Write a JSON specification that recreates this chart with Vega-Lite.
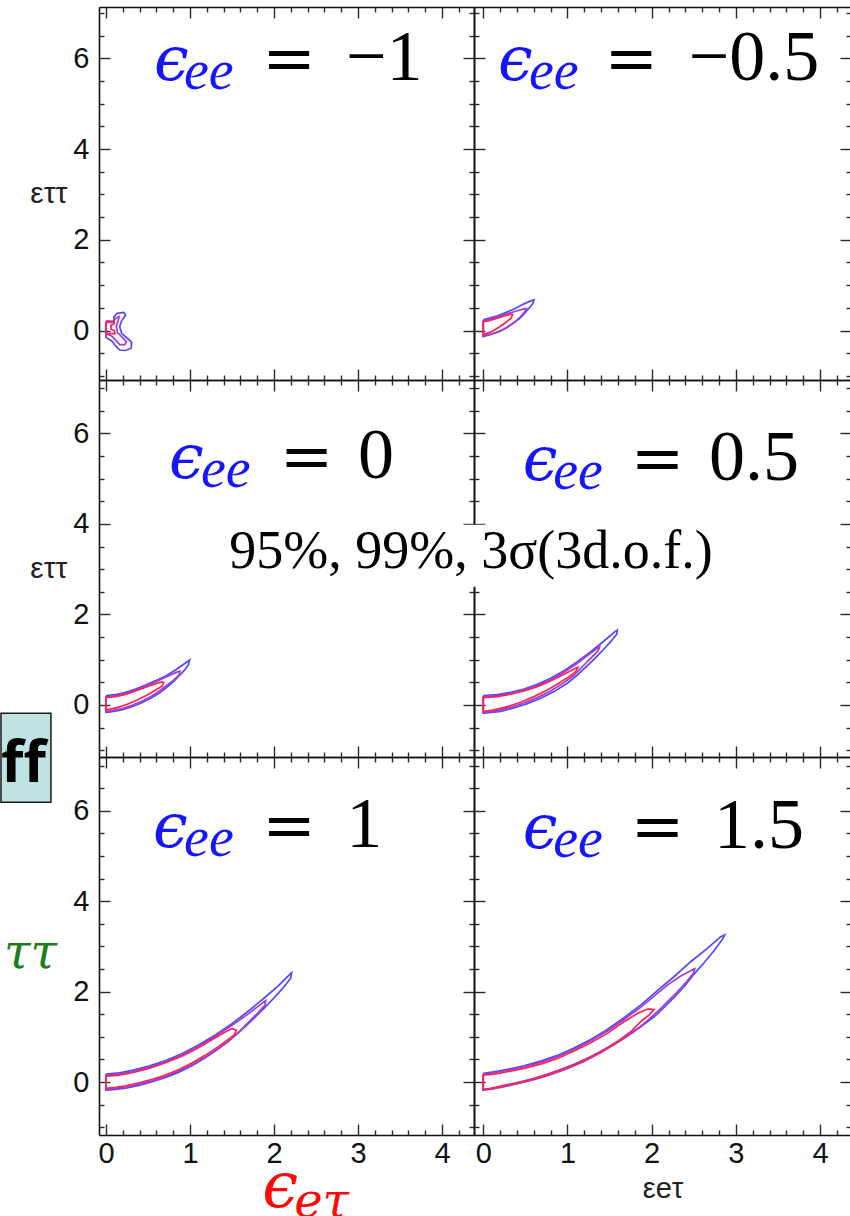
{
  "$schema": "https://vega.github.io/schema/vega-lite/v6.json",
  "background": "white",
  "padding": {"left": 0, "top": 6, "right": 0, "bottom": 0},
  "autosize": {"type": "pad"},
  "config": {
    "view": {"stroke": null},
    "axis": {
      "grid": false,
      "labelFlush": false,
      "labelOverlap": false,
      "domainColor": "#111111",
      "domainWidth": 1.6,
      "tickColor": "#2a2a2a",
      "tickWidth": 1.4,
      "labelFont": "Liberation Sans",
      "labelFontSize": 29,
      "labelColor": "#111111",
      "titleFont": "Liberation Sans",
      "titleFontWeight": "normal",
      "titleColor": "#222222"
    }
  },
  "datasets": {
    "panels": [{"ee": -1}, {"ee": -0.5}, {"ee": 0}, {"ee": 0.5}, {"ee": 1}, {"ee": 1.5}],
    "contours": [
      {"ee": -1, "lv": "3σ", "x": [0,0.095,0.095,0.135,0.214,0.234,0.187,0.163,0.187,0.254,0.306,0.3,0.234,0.163,0.115,0.075,0,0,0], "y": [0.18,0.18,0.3,0.38,0.4,0.34,0.22,0.09,-0.06,-0.17,-0.26,-0.39,-0.44,-0.43,-0.34,-0.24,-0.15,-0.06,0.18]},
      {"ee": -1, "lv": "99%", "x": [0,0.083,0.115,0.155,0.147,0.123,0.135,0.195,0.242,0.226,0.163,0.115,0.067,0,0], "y": [0.19,0.19,0.27,0.31,0.22,0.1,-0.04,-0.15,-0.24,-0.31,-0.31,-0.21,-0.12,-0.07,0.19]},
      {"ee": -1, "lv": "95%", "x": [0,0.091,0.099,0.06,0.06,0.099,0.107,0,0], "y": [0.21,0.21,0.15,0.12,0.03,0,-0.07,-0.07,0.21]},
      {"ee": -0.5, "lv": "3σ", "x": [0,0.088,0.187,0.286,0.385,0.484,0.563,0.603,0.587,0.543,0.484,0.424,0.345,0.266,0.187,0.088,0,0], "y": [0.235,0.279,0.338,0.411,0.492,0.588,0.654,0.676,0.588,0.492,0.367,0.25,0.147,0.052,-0.022,-0.088,-0.132,0.235]},
      {"ee": -0.5, "lv": "99%", "x": [0,0.088,0.187,0.286,0.385,0.484,0.512,0.492,0.444,0.365,0.286,0.207,0.108,0,0], "y": [0.213,0.25,0.309,0.367,0.426,0.477,0.485,0.411,0.309,0.176,0.074,-0.007,-0.073,-0.11,0.213]},
      {"ee": -0.5, "lv": "95%", "x": [0,0.068,0.167,0.266,0.325,0.349,0.333,0.266,0.187,0.108,0.029,0,0], "y": [0.191,0.22,0.272,0.331,0.36,0.353,0.279,0.176,0.074,-0.014,-0.073,-0.088,0.191]},
      {"ee": 0, "lv": "3σ", "x": [0,0.115,0.234,0.353,0.472,0.591,0.71,0.829,0.929,0.996,0.98,0.929,0.869,0.79,0.71,0.631,0.532,0.413,0.294,0.175,0.056,0,0], "y": [0.206,0.228,0.279,0.353,0.441,0.537,0.64,0.772,0.905,0.993,0.883,0.758,0.64,0.493,0.368,0.257,0.147,0.037,-0.052,-0.118,-0.155,-0.162,0.206]},
      {"ee": 0, "lv": "99%", "x": [0,0.115,0.234,0.353,0.472,0.591,0.71,0.829,0.881,0.869,0.81,0.73,0.651,0.552,0.432,0.313,0.194,0.075,0,0], "y": [0.184,0.206,0.257,0.331,0.419,0.515,0.611,0.714,0.75,0.662,0.552,0.441,0.331,0.206,0.088,-0.008,-0.081,-0.125,-0.14,0.184]},
      {"ee": 0, "lv": "95%", "x": [0,0.115,0.234,0.353,0.472,0.591,0.663,0.687,0.671,0.591,0.492,0.373,0.254,0.135,0,0], "y": [0.169,0.184,0.235,0.309,0.39,0.471,0.508,0.493,0.419,0.331,0.221,0.11,0.015,-0.059,-0.11,0.169]},
      {"ee": 0.5, "lv": "3σ", "x": [0,0.167,0.325,0.484,0.642,0.8,0.959,1.117,1.276,1.434,1.553,1.592,1.584,1.513,1.434,1.335,1.236,1.117,0.998,0.84,0.682,0.523,0.365,0.207,0,0], "y": [0.206,0.228,0.28,0.353,0.456,0.589,0.758,0.957,1.178,1.413,1.604,1.656,1.56,1.398,1.236,1.045,0.869,0.662,0.479,0.295,0.147,0.03,-0.066,-0.14,-0.184,0.206]},
      {"ee": 0.5, "lv": "99%", "x": [0,0.167,0.325,0.484,0.642,0.8,0.959,1.117,1.256,1.355,1.382,1.363,1.295,1.196,1.078,0.959,0.8,0.642,0.484,0.325,0.167,0,0], "y": [0.184,0.206,0.258,0.331,0.427,0.552,0.721,0.92,1.119,1.251,1.281,1.192,1.067,0.883,0.662,0.493,0.309,0.162,0.044,-0.051,-0.125,-0.162,0.184]},
      {"ee": 0.5, "lv": "95%", "x": [0,0.167,0.325,0.484,0.642,0.8,0.959,1.078,1.125,1.097,1.018,0.899,0.761,0.603,0.444,0.286,0.128,0,0], "y": [0.162,0.184,0.236,0.309,0.405,0.53,0.677,0.795,0.832,0.736,0.626,0.479,0.331,0.184,0.059,-0.037,-0.11,-0.147,0.162]},
      {"ee": 1, "lv": "3σ", "x": [0,0.155,0.313,0.512,0.71,0.909,1.107,1.306,1.504,1.702,1.901,2.06,2.179,2.21,2.198,2.119,2.02,1.901,1.782,1.663,1.544,1.425,1.306,1.167,1.028,0.869,0.71,0.552,0.393,0.234,0.115,0,0], "y": [0.177,0.206,0.258,0.354,0.479,0.634,0.826,1.047,1.298,1.578,1.888,2.146,2.367,2.419,2.293,2.109,1.903,1.667,1.445,1.239,1.04,0.855,0.693,0.524,0.369,0.221,0.103,0.007,-0.074,-0.133,-0.162,-0.177,0.177]},
      {"ee": 1, "lv": "99%", "x": [0,0.155,0.313,0.512,0.71,0.909,1.107,1.306,1.504,1.702,1.841,1.901,1.893,1.821,1.702,1.583,1.464,1.325,1.187,1.028,0.869,0.71,0.552,0.393,0.234,0.115,0,0], "y": [0.155,0.177,0.229,0.324,0.45,0.605,0.796,1.018,1.261,1.519,1.718,1.799,1.703,1.556,1.335,1.113,0.914,0.723,0.553,0.391,0.251,0.125,0.029,-0.044,-0.111,-0.14,-0.162,0.155]},
      {"ee": 1, "lv": "95%", "x": [0,0.155,0.313,0.512,0.71,0.909,1.107,1.266,1.425,1.504,1.552,1.524,1.444,1.325,1.187,1.028,0.869,0.71,0.552,0.393,0.234,0.115,0,0], "y": [0.133,0.155,0.206,0.302,0.428,0.575,0.767,0.944,1.113,1.187,1.15,1.04,0.929,0.767,0.597,0.428,0.28,0.155,0.059,-0.015,-0.081,-0.118,-0.14,0.133]},
      {"ee": 1.5, "lv": "3σ", "x": [0,0.128,0.286,0.484,0.682,0.88,1.078,1.276,1.474,1.671,1.869,2.067,2.265,2.463,2.661,2.82,2.867,2.839,2.74,2.622,2.503,2.384,2.265,2.147,2.028,1.869,1.671,1.474,1.276,1.078,0.88,0.682,0.484,0.286,0.128,0,0], "y": [0.192,0.229,0.28,0.361,0.465,0.59,0.752,0.944,1.165,1.423,1.703,2.021,2.33,2.662,2.957,3.215,3.252,3.156,2.906,2.64,2.389,2.109,1.873,1.652,1.445,1.224,0.988,0.76,0.56,0.391,0.251,0.118,0.007,-0.081,-0.14,-0.177,0.192]},
      {"ee": 1.5, "lv": "99%", "x": [0,0.128,0.286,0.484,0.682,0.88,1.078,1.276,1.474,1.671,1.869,2.028,2.186,2.344,2.463,2.511,2.495,2.424,2.305,2.186,2.067,1.949,1.79,1.592,1.394,1.196,0.998,0.8,0.603,0.405,0.207,0.088,0,0], "y": [0.17,0.207,0.258,0.339,0.435,0.56,0.723,0.914,1.128,1.386,1.652,1.903,2.146,2.345,2.463,2.507,2.404,2.242,1.998,1.777,1.556,1.357,1.113,0.87,0.649,0.457,0.295,0.162,0.052,-0.037,-0.118,-0.155,-0.17,0.17]},
      {"ee": 1.5, "lv": "95%", "x": [0,0.128,0.286,0.484,0.682,0.88,1.078,1.276,1.474,1.671,1.83,1.949,2.028,1.968,1.869,1.751,1.592,1.394,1.196,0.998,0.8,0.603,0.405,0.207,0.088,0,0], "y": [0.155,0.177,0.229,0.302,0.398,0.524,0.686,0.87,1.077,1.335,1.519,1.615,1.608,1.482,1.335,1.113,0.892,0.671,0.487,0.324,0.192,0.081,-0.008,-0.089,-0.14,-0.162,0.155]}
    ]
  },
  "columns": 2,
  "spacing": 0,
  "bounds": "flush",
  "concat": [
    {
      "width": 375, "height": 373,
      "resolve": {"axis": {"x": "independent", "y": "independent"}},
      "layer": [
        {
          "data": {"name": "contours"},
          "transform": [{"filter": "datum.ee === -1"}, {"flatten": ["x", "y"]}, {"window": [{"op": "row_number", "as": "i"}], "groupby": ["lv"]}],
          "mark": {"type": "line", "strokeWidth": 1.7, "clip": false},
          "encoding": {
            "x": {"field": "x", "type": "quantitative", "scale": {"domain": [-0.083, 4.381], "nice": false, "zero": false}, "axis": {"orient": "bottom", "values": [0,1,2,3,4], "tickSize": -11, "labels": false, "title": null}},
            "y": {"field": "y", "type": "quantitative", "scale": {"domain": [-1.09, 7.13], "nice": false, "zero": false}, "axis": {"orient": "left", "values": [0,2,4,6], "tickSize": -11, "labelPadding": 21, "title": "εττ", "titleAngle": 0, "titleAlign": "right", "titleBaseline": "middle", "titleFontSize": 30, "titlePadding": 6}},
            "color": {"field": "lv", "type": "nominal", "scale": {"domain": ["3σ", "99%", "95%"], "range": ["#5248ff", "#a43ccc", "#ff2255"]}, "legend": null},
            "order": {"field": "i", "type": "quantitative"}
          }
        },
        {
          "data": {"name": "panels"},
          "transform": [{"filter": "datum.ee === -1"}],
          "mark": {"type": "text", "text": "ϵ", "font": "DejaVu Serif", "fontStyle": "italic", "fontSize": 62, "color": "#1515ff", "align": "left", "baseline": "alphabetic"},
          "encoding": {
            "x": {"datum": 0.571, "type": "quantitative", "scale": {"domain": [-0.083, 4.381], "nice": false, "zero": false}, "axis": {"orient": "top", "values": [0,1,2,3,4], "tickSize": -11, "labels": false, "title": null}},
            "y": {"datum": 5.53, "type": "quantitative", "scale": {"domain": [-1.09, 7.13], "nice": false, "zero": false}, "axis": {"orient": "right", "values": [0,2,4,6], "tickSize": -11, "labels": false, "title": null}}
          }
        },
        {
          "data": {"name": "panels"},
          "transform": [{"filter": "datum.ee === -1"}],
          "mark": {"type": "text", "text": "ee", "font": "Liberation Serif", "fontStyle": "italic", "fontSize": 56, "color": "#1515ff", "align": "left", "baseline": "alphabetic", "dy": 9},
          "encoding": {
            "x": {"datum": 0.929, "type": "quantitative", "scale": {"domain": [-0.083, 4.381], "nice": false, "zero": false}, "axis": {"orient": "bottom", "values": [0.2,0.4,0.6,0.8,1.2,1.4,1.6,1.8,2.2,2.4,2.6,2.8,3.2,3.4,3.6,3.8,4.2], "tickSize": -5, "labels": false, "domain": false, "title": null}},
            "y": {"datum": 5.53, "type": "quantitative", "scale": {"domain": [-1.09, 7.13], "nice": false, "zero": false}, "axis": {"orient": "left", "values": [-1,-0.5,0.5,1,1.5,2.5,3,3.5,4.5,5,5.5,6.5,7], "tickSize": -5, "labels": false, "domain": false, "title": null}}
          }
        },
        {
          "data": {"name": "panels"},
          "transform": [{"filter": "datum.ee === -1"}],
          "mark": {"type": "text", "text": "=", "font": "DejaVu Serif", "fontSize": 64, "color": "black", "align": "left", "baseline": "alphabetic"},
          "encoding": {
            "x": {"datum": 1.86, "type": "quantitative", "scale": {"domain": [-0.083, 4.381], "nice": false, "zero": false}, "axis": {"orient": "top", "values": [0.2,0.4,0.6,0.8,1.2,1.4,1.6,1.8,2.2,2.4,2.6,2.8,3.2,3.4,3.6,3.8,4.2], "tickSize": -5, "labels": false, "domain": false, "title": null}},
            "y": {"datum": 5.53, "type": "quantitative", "scale": {"domain": [-1.09, 7.13], "nice": false, "zero": false}, "axis": {"orient": "right", "values": [-1,-0.5,0.5,1,1.5,2.5,3,3.5,4.5,5,5.5,6.5,7], "tickSize": -5, "labels": false, "domain": false, "title": null}}
          }
        },
        {
          "data": {"name": "panels"},
          "transform": [{"filter": "datum.ee === -1"}],
          "mark": {"type": "text", "font": "Liberation Serif", "fontSize": 72, "color": "black", "align": "left", "baseline": "alphabetic"},
          "encoding": {
            "x": {"datum": 2.857, "type": "quantitative", "scale": {"domain": [-0.083, 4.381], "nice": false, "zero": false}, "axis": null},
            "y": {"datum": 5.53, "type": "quantitative", "scale": {"domain": [-1.09, 7.13], "nice": false, "zero": false}, "axis": null},
            "text": {"field": "ee", "type": "quantitative", "format": "~g"}
          }
        }
      ]
    },
    {
      "width": 377, "height": 373,
      "resolve": {"axis": {"x": "independent", "y": "independent"}},
      "layer": [
        {
          "data": {"name": "contours"},
          "transform": [{"filter": "datum.ee === -0.5"}, {"flatten": ["x", "y"]}, {"window": [{"op": "row_number", "as": "i"}], "groupby": ["lv"]}],
          "mark": {"type": "line", "strokeWidth": 1.7, "clip": false},
          "encoding": {
            "x": {"field": "x", "type": "quantitative", "scale": {"domain": [-0.11, 4.367], "nice": false, "zero": false}, "axis": {"orient": "bottom", "values": [0,1,2,3,4], "tickSize": -11, "labels": false, "title": null}},
            "y": {"field": "y", "type": "quantitative", "scale": {"domain": [-1.09, 7.13], "nice": false, "zero": false}, "axis": {"orient": "left", "values": [0,2,4,6], "tickSize": -11, "labels": false, "title": null}},
            "color": {"field": "lv", "type": "nominal", "scale": {"domain": ["3σ", "99%", "95%"], "range": ["#5248ff", "#a43ccc", "#ff2255"]}, "legend": null},
            "order": {"field": "i", "type": "quantitative"}
          }
        },
        {
          "data": {"name": "panels"},
          "transform": [{"filter": "datum.ee === -0.5"}],
          "mark": {"type": "text", "text": "ϵ", "font": "DejaVu Serif", "fontStyle": "italic", "fontSize": 62, "color": "#1515ff", "align": "left", "baseline": "alphabetic"},
          "encoding": {
            "x": {"datum": 0.175, "type": "quantitative", "scale": {"domain": [-0.11, 4.367], "nice": false, "zero": false}, "axis": {"orient": "top", "values": [0,1,2,3,4], "tickSize": -11, "labels": false, "title": null}},
            "y": {"datum": 5.52, "type": "quantitative", "scale": {"domain": [-1.09, 7.13], "nice": false, "zero": false}, "axis": {"orient": "right", "values": [0,2,4,6], "tickSize": -11, "labels": false, "title": null}}
          }
        },
        {
          "data": {"name": "panels"},
          "transform": [{"filter": "datum.ee === -0.5"}],
          "mark": {"type": "text", "text": "ee", "font": "Liberation Serif", "fontStyle": "italic", "fontSize": 56, "color": "#1515ff", "align": "left", "baseline": "alphabetic", "dy": 9},
          "encoding": {
            "x": {"datum": 0.543, "type": "quantitative", "scale": {"domain": [-0.11, 4.367], "nice": false, "zero": false}, "axis": {"orient": "bottom", "values": [0.2,0.4,0.6,0.8,1.2,1.4,1.6,1.8,2.2,2.4,2.6,2.8,3.2,3.4,3.6,3.8,4.2], "tickSize": -5, "labels": false, "domain": false, "title": null}},
            "y": {"datum": 5.52, "type": "quantitative", "scale": {"domain": [-1.09, 7.13], "nice": false, "zero": false}, "axis": {"orient": "left", "values": [-1,-0.5,0.5,1,1.5,2.5,3,3.5,4.5,5,5.5,6.5,7], "tickSize": -5, "labels": false, "domain": false, "title": null}}
          }
        },
        {
          "data": {"name": "panels"},
          "transform": [{"filter": "datum.ee === -0.5"}],
          "mark": {"type": "text", "text": "=", "font": "DejaVu Serif", "fontSize": 64, "color": "black", "align": "left", "baseline": "alphabetic"},
          "encoding": {
            "x": {"datum": 1.44, "type": "quantitative", "scale": {"domain": [-0.11, 4.367], "nice": false, "zero": false}, "axis": {"orient": "top", "values": [0.2,0.4,0.6,0.8,1.2,1.4,1.6,1.8,2.2,2.4,2.6,2.8,3.2,3.4,3.6,3.8,4.2], "tickSize": -5, "labels": false, "domain": false, "title": null}},
            "y": {"datum": 5.52, "type": "quantitative", "scale": {"domain": [-1.09, 7.13], "nice": false, "zero": false}, "axis": {"orient": "right", "values": [-1,-0.5,0.5,1,1.5,2.5,3,3.5,4.5,5,5.5,6.5,7], "tickSize": -5, "labels": false, "domain": false, "title": null}}
          }
        },
        {
          "data": {"name": "panels"},
          "transform": [{"filter": "datum.ee === -0.5"}],
          "mark": {"type": "text", "font": "Liberation Serif", "fontSize": 72, "color": "black", "align": "left", "baseline": "alphabetic"},
          "encoding": {
            "x": {"datum": 2.44, "type": "quantitative", "scale": {"domain": [-0.11, 4.367], "nice": false, "zero": false}, "axis": null},
            "y": {"datum": 5.52, "type": "quantitative", "scale": {"domain": [-1.09, 7.13], "nice": false, "zero": false}, "axis": null},
            "text": {"field": "ee", "type": "quantitative", "format": "~g"}
          }
        }
      ]
    },
    {
      "width": 375, "height": 377,
      "resolve": {"axis": {"x": "independent", "y": "independent"}},
      "layer": [
        {
          "data": {"name": "contours"},
          "transform": [{"filter": "datum.ee === 0"}, {"flatten": ["x", "y"]}, {"window": [{"op": "row_number", "as": "i"}], "groupby": ["lv"]}],
          "mark": {"type": "line", "strokeWidth": 1.7, "clip": false},
          "encoding": {
            "x": {"field": "x", "type": "quantitative", "scale": {"domain": [-0.083, 4.381], "nice": false, "zero": false}, "axis": {"orient": "bottom", "values": [0,1,2,3,4], "tickSize": -11, "labels": false, "title": null}},
            "y": {"field": "y", "type": "quantitative", "scale": {"domain": [-1.15, 7.18], "nice": false, "zero": false}, "axis": {"orient": "left", "values": [0,2,4,6], "tickSize": -11, "labelPadding": 21, "title": "εττ", "titleAngle": 0, "titleAlign": "right", "titleBaseline": "middle", "titleFontSize": 30, "titlePadding": 6}},
            "color": {"field": "lv", "type": "nominal", "scale": {"domain": ["3σ", "99%", "95%"], "range": ["#5248ff", "#a43ccc", "#ff2255"]}, "legend": null},
            "order": {"field": "i", "type": "quantitative"}
          }
        },
        {
          "data": {"name": "panels"},
          "transform": [{"filter": "datum.ee === 0"}],
          "mark": {"type": "text", "text": "ϵ", "font": "DejaVu Serif", "fontStyle": "italic", "fontSize": 62, "color": "#1515ff", "align": "left", "baseline": "alphabetic"},
          "encoding": {
            "x": {"datum": 0.75, "type": "quantitative", "scale": {"domain": [-0.083, 4.381], "nice": false, "zero": false}, "axis": {"orient": "top", "values": [0,1,2,3,4], "tickSize": -11, "labels": false, "title": null}},
            "y": {"datum": 5.01, "type": "quantitative", "scale": {"domain": [-1.15, 7.18], "nice": false, "zero": false}, "axis": {"orient": "right", "values": [0,2,4,6], "tickSize": -11, "labels": false, "title": null}}
          }
        },
        {
          "data": {"name": "panels"},
          "transform": [{"filter": "datum.ee === 0"}],
          "mark": {"type": "text", "text": "ee", "font": "Liberation Serif", "fontStyle": "italic", "fontSize": 56, "color": "#1515ff", "align": "left", "baseline": "alphabetic", "dy": 9},
          "encoding": {
            "x": {"datum": 1.13, "type": "quantitative", "scale": {"domain": [-0.083, 4.381], "nice": false, "zero": false}, "axis": {"orient": "bottom", "values": [0.2,0.4,0.6,0.8,1.2,1.4,1.6,1.8,2.2,2.4,2.6,2.8,3.2,3.4,3.6,3.8,4.2], "tickSize": -5, "labels": false, "domain": false, "title": null}},
            "y": {"datum": 5.01, "type": "quantitative", "scale": {"domain": [-1.15, 7.18], "nice": false, "zero": false}, "axis": {"orient": "left", "values": [-1,-0.5,0.5,1,1.5,2.5,3,3.5,4.5,5,5.5,6.5,7], "tickSize": -5, "labels": false, "domain": false, "title": null}}
          }
        },
        {
          "data": {"name": "panels"},
          "transform": [{"filter": "datum.ee === 0"}],
          "mark": {"type": "text", "text": "=", "font": "DejaVu Serif", "fontSize": 64, "color": "black", "align": "left", "baseline": "alphabetic"},
          "encoding": {
            "x": {"datum": 2.07, "type": "quantitative", "scale": {"domain": [-0.083, 4.381], "nice": false, "zero": false}, "axis": {"orient": "top", "values": [0.2,0.4,0.6,0.8,1.2,1.4,1.6,1.8,2.2,2.4,2.6,2.8,3.2,3.4,3.6,3.8,4.2], "tickSize": -5, "labels": false, "domain": false, "title": null}},
            "y": {"datum": 5.01, "type": "quantitative", "scale": {"domain": [-1.15, 7.18], "nice": false, "zero": false}, "axis": {"orient": "right", "values": [-1,-0.5,0.5,1,1.5,2.5,3,3.5,4.5,5,5.5,6.5,7], "tickSize": -5, "labels": false, "domain": false, "title": null}}
          }
        },
        {
          "data": {"name": "panels"},
          "transform": [{"filter": "datum.ee === 0"}],
          "mark": {"type": "text", "font": "Liberation Serif", "fontSize": 72, "color": "black", "align": "left", "baseline": "alphabetic"},
          "encoding": {
            "x": {"datum": 3.0, "type": "quantitative", "scale": {"domain": [-0.083, 4.381], "nice": false, "zero": false}, "axis": null},
            "y": {"datum": 5.01, "type": "quantitative", "scale": {"domain": [-1.15, 7.18], "nice": false, "zero": false}, "axis": null},
            "text": {"field": "ee", "type": "quantitative", "format": "~g"}
          }
        }
      ]
    },
    {
      "width": 377, "height": 377,
      "resolve": {"axis": {"x": "independent", "y": "independent"}},
      "layer": [
        {
          "data": {"name": "contours"},
          "transform": [{"filter": "datum.ee === 0.5"}, {"flatten": ["x", "y"]}, {"window": [{"op": "row_number", "as": "i"}], "groupby": ["lv"]}],
          "mark": {"type": "line", "strokeWidth": 1.7, "clip": false},
          "encoding": {
            "x": {"field": "x", "type": "quantitative", "scale": {"domain": [-0.11, 4.367], "nice": false, "zero": false}, "axis": {"orient": "bottom", "values": [0,1,2,3,4], "tickSize": -11, "labels": false, "title": null}},
            "y": {"field": "y", "type": "quantitative", "scale": {"domain": [-1.15, 7.18], "nice": false, "zero": false}, "axis": {"orient": "left", "values": [0,2,4,6], "tickSize": -11, "labels": false, "title": null}},
            "color": {"field": "lv", "type": "nominal", "scale": {"domain": ["3σ", "99%", "95%"], "range": ["#5248ff", "#a43ccc", "#ff2255"]}, "legend": null},
            "order": {"field": "i", "type": "quantitative"}
          }
        },
        {
          "data": {"name": "panels"},
          "transform": [{"filter": "datum.ee === 0.5"}],
          "mark": {"type": "text", "text": "ϵ", "font": "DejaVu Serif", "fontStyle": "italic", "fontSize": 62, "color": "#1515ff", "align": "left", "baseline": "alphabetic"},
          "encoding": {
            "x": {"datum": 0.47, "type": "quantitative", "scale": {"domain": [-0.11, 4.367], "nice": false, "zero": false}, "axis": {"orient": "top", "values": [0,1,2,3,4], "tickSize": -11, "labels": false, "title": null}},
            "y": {"datum": 4.97, "type": "quantitative", "scale": {"domain": [-1.15, 7.18], "nice": false, "zero": false}, "axis": {"orient": "right", "values": [0,2,4,6], "tickSize": -11, "labels": false, "title": null}}
          }
        },
        {
          "data": {"name": "panels"},
          "transform": [{"filter": "datum.ee === 0.5"}],
          "mark": {"type": "text", "text": "ee", "font": "Liberation Serif", "fontStyle": "italic", "fontSize": 56, "color": "#1515ff", "align": "left", "baseline": "alphabetic", "dy": 9},
          "encoding": {
            "x": {"datum": 0.83, "type": "quantitative", "scale": {"domain": [-0.11, 4.367], "nice": false, "zero": false}, "axis": {"orient": "bottom", "values": [0.2,0.4,0.6,0.8,1.2,1.4,1.6,1.8,2.2,2.4,2.6,2.8,3.2,3.4,3.6,3.8,4.2], "tickSize": -5, "labels": false, "domain": false, "title": null}},
            "y": {"datum": 4.97, "type": "quantitative", "scale": {"domain": [-1.15, 7.18], "nice": false, "zero": false}, "axis": {"orient": "left", "values": [-1,-0.5,0.5,1,1.5,2.5,3,3.5,4.5,5,5.5,6.5,7], "tickSize": -5, "labels": false, "domain": false, "title": null}}
          }
        },
        {
          "data": {"name": "panels"},
          "transform": [{"filter": "datum.ee === 0.5"}],
          "mark": {"type": "text", "text": "=", "font": "DejaVu Serif", "fontSize": 64, "color": "black", "align": "left", "baseline": "alphabetic"},
          "encoding": {
            "x": {"datum": 1.75, "type": "quantitative", "scale": {"domain": [-0.11, 4.367], "nice": false, "zero": false}, "axis": {"orient": "top", "values": [0.2,0.4,0.6,0.8,1.2,1.4,1.6,1.8,2.2,2.4,2.6,2.8,3.2,3.4,3.6,3.8,4.2], "tickSize": -5, "labels": false, "domain": false, "title": null}},
            "y": {"datum": 4.97, "type": "quantitative", "scale": {"domain": [-1.15, 7.18], "nice": false, "zero": false}, "axis": {"orient": "right", "values": [-1,-0.5,0.5,1,1.5,2.5,3,3.5,4.5,5,5.5,6.5,7], "tickSize": -5, "labels": false, "domain": false, "title": null}}
          }
        },
        {
          "data": {"name": "panels"},
          "transform": [{"filter": "datum.ee === 0.5"}],
          "mark": {"type": "text", "font": "Liberation Serif", "fontSize": 72, "color": "black", "align": "left", "baseline": "alphabetic"},
          "encoding": {
            "x": {"datum": 2.68, "type": "quantitative", "scale": {"domain": [-0.11, 4.367], "nice": false, "zero": false}, "axis": null},
            "y": {"datum": 4.97, "type": "quantitative", "scale": {"domain": [-1.15, 7.18], "nice": false, "zero": false}, "axis": null},
            "text": {"field": "ee", "type": "quantitative", "format": "~g"}
          }
        },
        {
          "data": {"name": "panels"},
          "transform": [{"filter": "datum.ee === 0.5"}],
          "mark": {"type": "rect", "fill": "white"},
          "encoding": {
            "x": {"datum": -3.02, "type": "quantitative", "scale": {"domain": [-0.11, 4.367], "nice": false, "zero": false}, "axis": null},
            "x2": {"datum": 2.78},
            "y": {"datum": 3.98, "type": "quantitative", "scale": {"domain": [-1.15, 7.18], "nice": false, "zero": false}, "axis": null},
            "y2": {"datum": 2.61}
          }
        },
        {
          "data": {"name": "panels"},
          "transform": [{"filter": "datum.ee === 0.5"}],
          "mark": {"type": "text", "text": "95%, 99%, 3σ(3d.o.f.)", "font": "Liberation Serif", "fontSize": 54, "color": "black", "align": "center", "baseline": "alphabetic"},
          "encoding": {
            "x": {"datum": -0.146, "type": "quantitative", "scale": {"domain": [-0.11, 4.367], "nice": false, "zero": false}, "axis": null},
            "y": {"datum": 3.03, "type": "quantitative", "scale": {"domain": [-1.15, 7.18], "nice": false, "zero": false}, "axis": null}
          }
        }
      ]
    },
    {
      "width": 375, "height": 378,
      "resolve": {"axis": {"x": "independent", "y": "independent"}},
      "layer": [
        {
          "data": {"name": "contours"},
          "transform": [{"filter": "datum.ee === 1"}, {"flatten": ["x", "y"]}, {"window": [{"op": "row_number", "as": "i"}], "groupby": ["lv"]}],
          "mark": {"type": "line", "strokeWidth": 1.7, "clip": false},
          "encoding": {
            "x": {"field": "x", "type": "quantitative", "scale": {"domain": [-0.083, 4.381], "nice": false, "zero": false}, "axis": {"orient": "bottom", "values": [0,1,2,3,4], "tickSize": -11, "labelPadding": 15, "title": null}},
            "y": {"field": "y", "type": "quantitative", "scale": {"domain": [-1.17, 7.19], "nice": false, "zero": false}, "axis": {"orient": "left", "values": [0,2,4,6], "tickSize": -11, "labelPadding": 21, "title": null}},
            "color": {"field": "lv", "type": "nominal", "scale": {"domain": ["3σ", "99%", "95%"], "range": ["#5248ff", "#a43ccc", "#ff2255"]}, "legend": null},
            "order": {"field": "i", "type": "quantitative"}
          }
        },
        {
          "data": {"name": "panels"},
          "transform": [{"filter": "datum.ee === 1"}],
          "mark": {"type": "text", "text": "ϵ", "font": "DejaVu Serif", "fontStyle": "italic", "fontSize": 62, "color": "#1515ff", "align": "left", "baseline": "alphabetic"},
          "encoding": {
            "x": {"datum": 0.56, "type": "quantitative", "scale": {"domain": [-0.083, 4.381], "nice": false, "zero": false}, "axis": {"orient": "top", "values": [0,1,2,3,4], "tickSize": -11, "labels": false, "title": null}},
            "y": {"datum": 5.2, "type": "quantitative", "scale": {"domain": [-1.17, 7.19], "nice": false, "zero": false}, "axis": {"orient": "right", "values": [0,2,4,6], "tickSize": -11, "labels": false, "title": null}}
          }
        },
        {
          "data": {"name": "panels"},
          "transform": [{"filter": "datum.ee === 1"}],
          "mark": {"type": "text", "text": "ee", "font": "Liberation Serif", "fontStyle": "italic", "fontSize": 56, "color": "#1515ff", "align": "left", "baseline": "alphabetic", "dy": 9},
          "encoding": {
            "x": {"datum": 0.93, "type": "quantitative", "scale": {"domain": [-0.083, 4.381], "nice": false, "zero": false}, "axis": {"orient": "bottom", "values": [0.2,0.4,0.6,0.8,1.2,1.4,1.6,1.8,2.2,2.4,2.6,2.8,3.2,3.4,3.6,3.8,4.2], "tickSize": -5, "labels": false, "domain": false, "title": null}},
            "y": {"datum": 5.2, "type": "quantitative", "scale": {"domain": [-1.17, 7.19], "nice": false, "zero": false}, "axis": {"orient": "left", "values": [-1,-0.5,0.5,1,1.5,2.5,3,3.5,4.5,5,5.5,6.5,7], "tickSize": -5, "labels": false, "domain": false, "title": null}}
          }
        },
        {
          "data": {"name": "panels"},
          "transform": [{"filter": "datum.ee === 1"}],
          "mark": {"type": "text", "text": "=", "font": "DejaVu Serif", "fontSize": 64, "color": "black", "align": "left", "baseline": "alphabetic"},
          "encoding": {
            "x": {"datum": 1.86, "type": "quantitative", "scale": {"domain": [-0.083, 4.381], "nice": false, "zero": false}, "axis": {"orient": "top", "values": [0.2,0.4,0.6,0.8,1.2,1.4,1.6,1.8,2.2,2.4,2.6,2.8,3.2,3.4,3.6,3.8,4.2], "tickSize": -5, "labels": false, "domain": false, "title": null}},
            "y": {"datum": 5.2, "type": "quantitative", "scale": {"domain": [-1.17, 7.19], "nice": false, "zero": false}, "axis": {"orient": "right", "values": [-1,-0.5,0.5,1,1.5,2.5,3,3.5,4.5,5,5.5,6.5,7], "tickSize": -5, "labels": false, "domain": false, "title": null}}
          }
        },
        {
          "data": {"name": "panels"},
          "transform": [{"filter": "datum.ee === 1"}],
          "mark": {"type": "text", "font": "Liberation Serif", "fontSize": 72, "color": "black", "align": "left", "baseline": "alphabetic"},
          "encoding": {
            "x": {"datum": 2.86, "type": "quantitative", "scale": {"domain": [-0.083, 4.381], "nice": false, "zero": false}, "axis": null},
            "y": {"datum": 5.2, "type": "quantitative", "scale": {"domain": [-1.17, 7.19], "nice": false, "zero": false}, "axis": null},
            "text": {"field": "ee", "type": "quantitative", "format": "~g"}
          }
        },
        {
          "data": {"name": "panels"},
          "transform": [{"filter": "datum.ee === 1"}],
          "mark": {"type": "rect", "fill": "#bfe2e3", "stroke": "#1a1a1a", "strokeWidth": 1.5},
          "encoding": {
            "x": {"datum": -1.25, "type": "quantitative", "scale": {"domain": [-0.083, 4.381], "nice": false, "zero": false}, "axis": null},
            "x2": {"datum": -0.655},
            "y": {"datum": 8.16, "type": "quantitative", "scale": {"domain": [-1.17, 7.19], "nice": false, "zero": false}, "axis": null},
            "y2": {"datum": 6.19}
          }
        },
        {
          "data": {"name": "panels"},
          "transform": [{"filter": "datum.ee === 1"}],
          "mark": {"type": "text", "text": "ff", "font": "Open Sans", "fontWeight": "bold", "fontSize": 58, "color": "black", "align": "left", "baseline": "alphabetic"},
          "encoding": {
            "x": {"datum": -1.25, "type": "quantitative", "scale": {"domain": [-0.083, 4.381], "nice": false, "zero": false}, "axis": null},
            "y": {"datum": 6.64, "type": "quantitative", "scale": {"domain": [-1.17, 7.19], "nice": false, "zero": false}, "axis": null}
          }
        },
        {
          "data": {"name": "panels"},
          "transform": [{"filter": "datum.ee === 1"}],
          "mark": {"type": "text", "text": "ττ", "font": "DejaVu Serif", "fontStyle": "italic", "fontSize": 48, "color": "#1b7d1b", "align": "left", "baseline": "alphabetic"},
          "encoding": {
            "x": {"datum": -1.214, "type": "quantitative", "scale": {"domain": [-0.083, 4.381], "nice": false, "zero": false}, "axis": null},
            "y": {"datum": 2.52, "type": "quantitative", "scale": {"domain": [-1.17, 7.19], "nice": false, "zero": false}, "axis": null}
          }
        },
        {
          "data": {"name": "panels"},
          "transform": [{"filter": "datum.ee === 1"}],
          "mark": {"type": "text", "text": "ϵ", "font": "DejaVu Serif", "fontStyle": "italic", "fontSize": 64, "color": "#ff0a0a", "align": "left", "baseline": "alphabetic"},
          "encoding": {
            "x": {"datum": 1.86, "type": "quantitative", "scale": {"domain": [-0.083, 4.381], "nice": false, "zero": false}, "axis": null},
            "y": {"datum": -2.77, "type": "quantitative", "scale": {"domain": [-1.17, 7.19], "nice": false, "zero": false}, "axis": null}
          }
        },
        {
          "data": {"name": "panels"},
          "transform": [{"filter": "datum.ee === 1"}],
          "mark": {"type": "text", "text": "eτ", "font": "DejaVu Serif", "fontStyle": "italic", "fontSize": 48, "color": "#ff0a0a", "align": "left", "baseline": "alphabetic", "dy": 10},
          "encoding": {
            "x": {"datum": 2.24, "type": "quantitative", "scale": {"domain": [-0.083, 4.381], "nice": false, "zero": false}, "axis": null},
            "y": {"datum": -2.77, "type": "quantitative", "scale": {"domain": [-1.17, 7.19], "nice": false, "zero": false}, "axis": null}
          }
        }
      ]
    },
    {
      "width": 377, "height": 378,
      "resolve": {"axis": {"x": "independent", "y": "independent"}},
      "layer": [
        {
          "data": {"name": "contours"},
          "transform": [{"filter": "datum.ee === 1.5"}, {"flatten": ["x", "y"]}, {"window": [{"op": "row_number", "as": "i"}], "groupby": ["lv"]}],
          "mark": {"type": "line", "strokeWidth": 1.7, "clip": false},
          "encoding": {
            "x": {"field": "x", "type": "quantitative", "scale": {"domain": [-0.11, 4.367], "nice": false, "zero": false}, "axis": {"orient": "bottom", "values": [0,1,2,3,4], "tickSize": -11, "labelPadding": 15, "title": "εeτ", "titleFontSize": 29, "titlePadding": 6}},
            "y": {"field": "y", "type": "quantitative", "scale": {"domain": [-1.17, 7.19], "nice": false, "zero": false}, "axis": {"orient": "left", "values": [0,2,4,6], "tickSize": -11, "labels": false, "title": null}},
            "color": {"field": "lv", "type": "nominal", "scale": {"domain": ["3σ", "99%", "95%"], "range": ["#5248ff", "#a43ccc", "#ff2255"]}, "legend": null},
            "order": {"field": "i", "type": "quantitative"}
          }
        },
        {
          "data": {"name": "panels"},
          "transform": [{"filter": "datum.ee === 1.5"}],
          "mark": {"type": "text", "text": "ϵ", "font": "DejaVu Serif", "fontStyle": "italic", "fontSize": 62, "color": "#1515ff", "align": "left", "baseline": "alphabetic"},
          "encoding": {
            "x": {"datum": 0.47, "type": "quantitative", "scale": {"domain": [-0.11, 4.367], "nice": false, "zero": false}, "axis": {"orient": "top", "values": [0,1,2,3,4], "tickSize": -11, "labels": false, "title": null}},
            "y": {"datum": 5.18, "type": "quantitative", "scale": {"domain": [-1.17, 7.19], "nice": false, "zero": false}, "axis": {"orient": "right", "values": [0,2,4,6], "tickSize": -11, "labels": false, "title": null}}
          }
        },
        {
          "data": {"name": "panels"},
          "transform": [{"filter": "datum.ee === 1.5"}],
          "mark": {"type": "text", "text": "ee", "font": "Liberation Serif", "fontStyle": "italic", "fontSize": 56, "color": "#1515ff", "align": "left", "baseline": "alphabetic", "dy": 9},
          "encoding": {
            "x": {"datum": 0.83, "type": "quantitative", "scale": {"domain": [-0.11, 4.367], "nice": false, "zero": false}, "axis": {"orient": "bottom", "values": [0.2,0.4,0.6,0.8,1.2,1.4,1.6,1.8,2.2,2.4,2.6,2.8,3.2,3.4,3.6,3.8,4.2], "tickSize": -5, "labels": false, "domain": false, "title": null}},
            "y": {"datum": 5.18, "type": "quantitative", "scale": {"domain": [-1.17, 7.19], "nice": false, "zero": false}, "axis": {"orient": "left", "values": [-1,-0.5,0.5,1,1.5,2.5,3,3.5,4.5,5,5.5,6.5,7], "tickSize": -5, "labels": false, "domain": false, "title": null}}
          }
        },
        {
          "data": {"name": "panels"},
          "transform": [{"filter": "datum.ee === 1.5"}],
          "mark": {"type": "text", "text": "=", "font": "DejaVu Serif", "fontSize": 64, "color": "black", "align": "left", "baseline": "alphabetic"},
          "encoding": {
            "x": {"datum": 1.75, "type": "quantitative", "scale": {"domain": [-0.11, 4.367], "nice": false, "zero": false}, "axis": {"orient": "top", "values": [0.2,0.4,0.6,0.8,1.2,1.4,1.6,1.8,2.2,2.4,2.6,2.8,3.2,3.4,3.6,3.8,4.2], "tickSize": -5, "labels": false, "domain": false, "title": null}},
            "y": {"datum": 5.18, "type": "quantitative", "scale": {"domain": [-1.17, 7.19], "nice": false, "zero": false}, "axis": {"orient": "right", "values": [-1,-0.5,0.5,1,1.5,2.5,3,3.5,4.5,5,5.5,6.5,7], "tickSize": -5, "labels": false, "domain": false, "title": null}}
          }
        },
        {
          "data": {"name": "panels"},
          "transform": [{"filter": "datum.ee === 1.5"}],
          "mark": {"type": "text", "font": "Liberation Serif", "fontSize": 72, "color": "black", "align": "left", "baseline": "alphabetic"},
          "encoding": {
            "x": {"datum": 2.74, "type": "quantitative", "scale": {"domain": [-0.11, 4.367], "nice": false, "zero": false}, "axis": null},
            "y": {"datum": 5.18, "type": "quantitative", "scale": {"domain": [-1.17, 7.19], "nice": false, "zero": false}, "axis": null},
            "text": {"field": "ee", "type": "quantitative", "format": "~g"}
          }
        }
      ]
    }
  ]
}
